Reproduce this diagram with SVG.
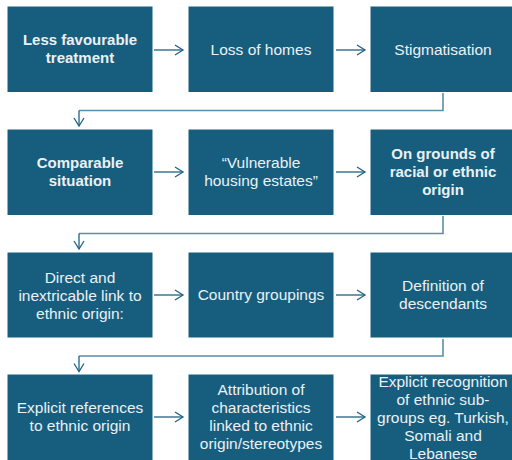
<svg xmlns="http://www.w3.org/2000/svg" width="512" height="460" viewBox="0 0 512 460">
<defs>
<style>
.box{fill:#175e7e;stroke:#ffffff;stroke-width:1}
.t{font-family:"Liberation Sans",Arial,sans-serif;font-size:15.5px;fill:#eaf1f5;text-anchor:middle}
.b{font-weight:bold;font-size:15px}
.h{fill:none;stroke:#1e6283;stroke-width:1.3}
.e{fill:none;stroke:#5a8fa9;stroke-width:1.6}
</style>
<marker id="ah" markerWidth="12" markerHeight="12" refX="10" refY="6" orient="auto" markerUnits="userSpaceOnUse">
<path d="M2,1 L10,6 L2,11" fill="none" stroke="#1e6283" stroke-width="1.3"/>
</marker>
</defs>
<rect width="512" height="460" fill="#ffffff"/>
<g id="connectors">
<line class="h" x1="154" y1="50" x2="183" y2="50" marker-end="url(#ah)"/>
<line class="h" x1="336" y1="50" x2="365" y2="50" marker-end="url(#ah)"/>
<line class="h" x1="154" y1="172" x2="183" y2="172" marker-end="url(#ah)"/>
<line class="h" x1="336" y1="172" x2="365" y2="172" marker-end="url(#ah)"/>
<line class="h" x1="154" y1="295" x2="183" y2="295" marker-end="url(#ah)"/>
<line class="h" x1="336" y1="295" x2="365" y2="295" marker-end="url(#ah)"/>
<line class="h" x1="154" y1="417" x2="183" y2="417" marker-end="url(#ah)"/>
<line class="h" x1="336" y1="417" x2="365" y2="417" marker-end="url(#ah)"/>
<path class="e" d="M443,93 V110.5 H79"/>
<line class="h" x1="79" y1="110.5" x2="79" y2="126" marker-end="url(#ah)"/>
<path class="e" d="M443,216 V233.5 H79"/>
<line class="h" x1="79" y1="233.5" x2="79" y2="249" marker-end="url(#ah)"/>
<path class="e" d="M443,339 V356 H79"/>
<line class="h" x1="79" y1="356" x2="79" y2="371.5" marker-end="url(#ah)"/>
</g>
<g id="n1"><rect class="box" x="7" y="6" width="146" height="86.5"/><text class="t b" x="80" y="45">Less favourable</text><text class="t b" x="80" y="63">treatment</text></g>
<g id="n2"><rect class="box" x="188" y="6" width="146" height="86.5"/><text class="t" x="261" y="54.5">Loss of homes</text></g>
<g id="n3"><rect class="box" x="370" y="6" width="146" height="86.5"/><text class="t" x="443" y="54.5">Stigmatisation</text></g>
<g id="n4"><rect class="box" x="7" y="129" width="146" height="86.5"/><text class="t b" x="80" y="167.5">Comparable</text><text class="t b" x="80" y="185.5">situation</text></g>
<g id="n5"><rect class="box" x="188" y="129" width="146" height="86.5"/><text class="t" x="261" y="167.5">“Vulnerable</text><text class="t" x="261" y="185.5">housing estates”</text></g>
<g id="n6"><rect class="box" x="370" y="129" width="146" height="86.5"/><text class="t b" x="443" y="159">On grounds of</text><text class="t b" x="443" y="177">racial or ethnic</text><text class="t b" x="443" y="195">origin</text></g>
<g id="n7"><rect class="box" x="7" y="252" width="146" height="86"/><text class="t" x="80" y="282.5">Direct and</text><text class="t" x="80" y="300.5">inextricable link to</text><text class="t" x="80" y="318.5">ethnic origin:</text></g>
<g id="n8"><rect class="box" x="188" y="252" width="146" height="86"/><text class="t" x="261" y="300">Country groupings</text></g>
<g id="n9"><rect class="box" x="370" y="252" width="146" height="86"/><text class="t" x="443" y="291">Definition of</text><text class="t" x="443" y="309">descendants</text></g>
<g id="n10"><rect class="box" x="7" y="374" width="146" height="90"/><text class="t" x="80" y="413">Explicit references</text><text class="t" x="80" y="431">to ethnic origin</text></g>
<g id="n11"><rect class="box" x="188" y="374" width="146" height="90"/><text class="t" x="261" y="395">Attribution of</text><text class="t" x="261" y="413">characteristics</text><text class="t" x="261" y="431">linked to ethnic</text><text class="t" x="261" y="449">origin/stereotypes</text></g>
<g id="n12"><rect class="box" x="370" y="374" width="146" height="90"/><text class="t" x="443" y="386.5">Explicit recognition</text><text class="t" x="443" y="404.5">of ethnic sub-</text><text class="t" x="443" y="422.5">groups eg. Turkish,</text><text class="t" x="443" y="440.5">Somali and</text><text class="t" x="443" y="458.5">Lebanese</text></g>
</svg>
